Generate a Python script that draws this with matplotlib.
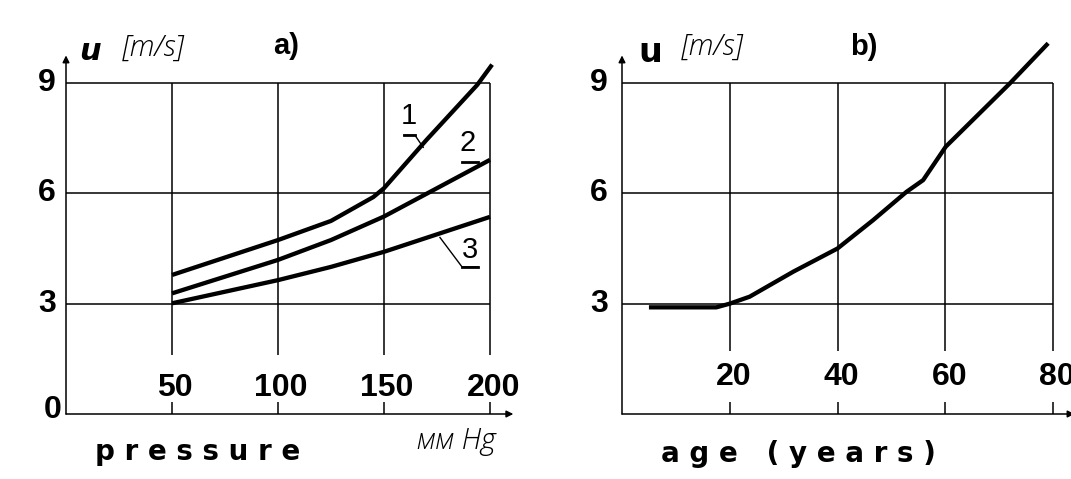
import matplotlib
matplotlib.use("Agg")
import matplotlib.pyplot as plt

# panel a) velocity vs pressure, three curves
pressure_1 = [50, 100, 125, 145, 150, 170, 194, 201]
u_1 = [3.78, 4.73, 5.25, 5.9, 6.14, 7.45, 8.95, 9.5]
pressure_2 = [50, 100, 125, 150, 175, 200]
u_2 = [3.28, 4.19, 4.73, 5.37, 6.14, 6.91]
pressure_3 = [50, 100, 125, 150, 200]
u_3 = [3.01, 3.64, 4.0, 4.41, 5.36]

# panel b) velocity vs age
age = [5, 17.5, 20, 23.7, 31.8, 40, 46.6, 52.8, 55.9, 60.1, 72, 79.1]
u_age = [2.9, 2.9, 3.0, 3.19, 3.87, 4.5, 5.27, 6.04, 6.36, 7.27, 8.99, 10.08]

y_ticks = [3, 6, 9]
p_ticks = [50, 100, 150, 200]
age_ticks = [20, 40, 60, 80]

NARROW = ["Liberation Sans Narrow", "Liberation Sans", "DejaVu Sans"]
LIGHT = ["Open Sans", "DejaVu Sans"]
LW_GRID = 1.1
LW_CURVE = 3.1
TICK_FS = 23

fig = plt.figure(figsize=(10.71, 4.79), dpi=100)
fig.patch.set_facecolor("white")

ax_a = fig.add_axes([66 / 1071, 65 / 479, 424 / 1071, 331 / 479])
ax_b = fig.add_axes([622 / 1071, 65 / 479, 431 / 1071, 331 / 479])


def frame(ax, xticks, xmax, arrow_x, grid_bottom, tick_dx, tick_y, ylab_x):
    ax.set_xlim(0, xmax)
    ax.set_ylim(0, 9)
    ax.axis("off")
    kw = dict(color="black", lw=LW_GRID, clip_on=False, solid_capstyle="butt")
    for y in y_ticks:
        ax.plot([0, xmax], [y, y], **kw)
    for x in xticks:
        ax.plot([x, x], [grid_bottom, 9], **kw)
        ax.plot([x, x], [0, 0.32], **kw)
        ax.text(x + tick_dx, tick_y, str(x), ha="center", va="center",
                fontsize=TICK_FS, fontweight="bold", family=NARROW)
    for y in y_ticks:
        ax.text(ylab_x, y, str(y), ha="center", va="center",
                fontsize=TICK_FS, fontweight="bold", family=NARROW)
    # axes with arrow heads
    ax.annotate("", xy=(0, 9.75), xytext=(0, 0), annotation_clip=False,
                arrowprops=dict(arrowstyle="-|>", color="black", lw=LW_GRID,
                                mutation_scale=10, shrinkA=0, shrinkB=0))
    ax.annotate("", xy=(arrow_x, 0), xytext=(0, 0), annotation_clip=False,
                arrowprops=dict(arrowstyle="-|>", color="black", lw=LW_GRID,
                                mutation_scale=10, shrinkA=0, shrinkB=0))


frame(ax_a, p_ticks, 200, 211, 1.6, 1.5, 0.7, -9.0)
frame(ax_b, age_ticks, 80, 84, 1.7, 0.8, 1.0, -4.3)

ax_a.text(-6.1, 0.1, "0", ha="center", va="center", fontsize=TICK_FS,
          fontweight="bold", family=NARROW)

# curves
for xs, ys in [(pressure_1, u_1), (pressure_2, u_2), (pressure_3, u_3)]:
    ax_a.plot(xs, ys, color="black", lw=LW_CURVE, clip_on=False,
              solid_capstyle="butt")
ax_b.plot(age, u_age, color="black", lw=LW_CURVE, clip_on=False,
          solid_capstyle="butt")

# curve labels with underline and leader
lab_kw = dict(ha="center", va="center", fontsize=21, family=NARROW)
ax_a.text(161.8, 8.1, "1", **lab_kw)
ax_a.plot([159.5, 164.6, 168.5], [7.58, 7.58, 7.25], color="black",
          lw=1.0, clip_on=False)
ax_a.plot([159.5, 164.6], [7.58, 7.58], color="black", lw=2.0, clip_on=False)
ax_a.text(189.5, 7.38, "2", **lab_kw)
ax_a.plot([186.8, 194.5], [6.86, 6.86], color="black", lw=2.0, clip_on=False)
ax_a.text(190.5, 4.45, "3", **lab_kw)
ax_a.plot([176.4, 186.8, 194.5], [4.8, 4.0, 4.0], color="black",
          lw=1.0, clip_on=False)
ax_a.plot([186.8, 194.5], [4.0, 4.0], color="black", lw=2.0, clip_on=False)

# axis titles
ax_a.text(11.3, 9.86, "u", ha="center", va="center", fontsize=22,
          fontweight="bold", fontstyle="italic", family="DejaVu Sans")
ax_a.text(41, 9.95, "[m/s]", ha="center", va="center", fontsize=21,
          fontstyle="italic", fontweight="light", family=LIGHT)
ax_a.text(104, 10.0, "a)", ha="center", va="center", fontsize=21,
          fontweight="bold", family=NARROW)
ax_a.text(62.3, -1.03, "p r e s s u r e", ha="center", va="center",
          fontsize=20, fontweight="bold", family="DejaVu Sans")
ax_a.text(184, -0.73, "мм Hg", ha="center", va="center", fontsize=21,
          fontstyle="italic", fontweight="light", family=LIGHT)

ax_b.text(5.2, 9.82, "u", ha="center", va="center", fontsize=24,
          fontweight="bold", family="DejaVu Sans")
ax_b.text(16.7, 9.98, "[m/s]", ha="center", va="center", fontsize=21,
          fontstyle="italic", fontweight="light", family=LIGHT)
ax_b.text(44.8, 9.98, "b)", ha="center", va="center", fontsize=21,
          fontweight="bold", family=NARROW)
ax_b.text(32.8, -1.1, "a g e   ( y e a r s )", ha="center", va="center",
          fontsize=20, fontweight="bold", family="DejaVu Sans")

fig.savefig("out.png", dpi=100, facecolor="white")
